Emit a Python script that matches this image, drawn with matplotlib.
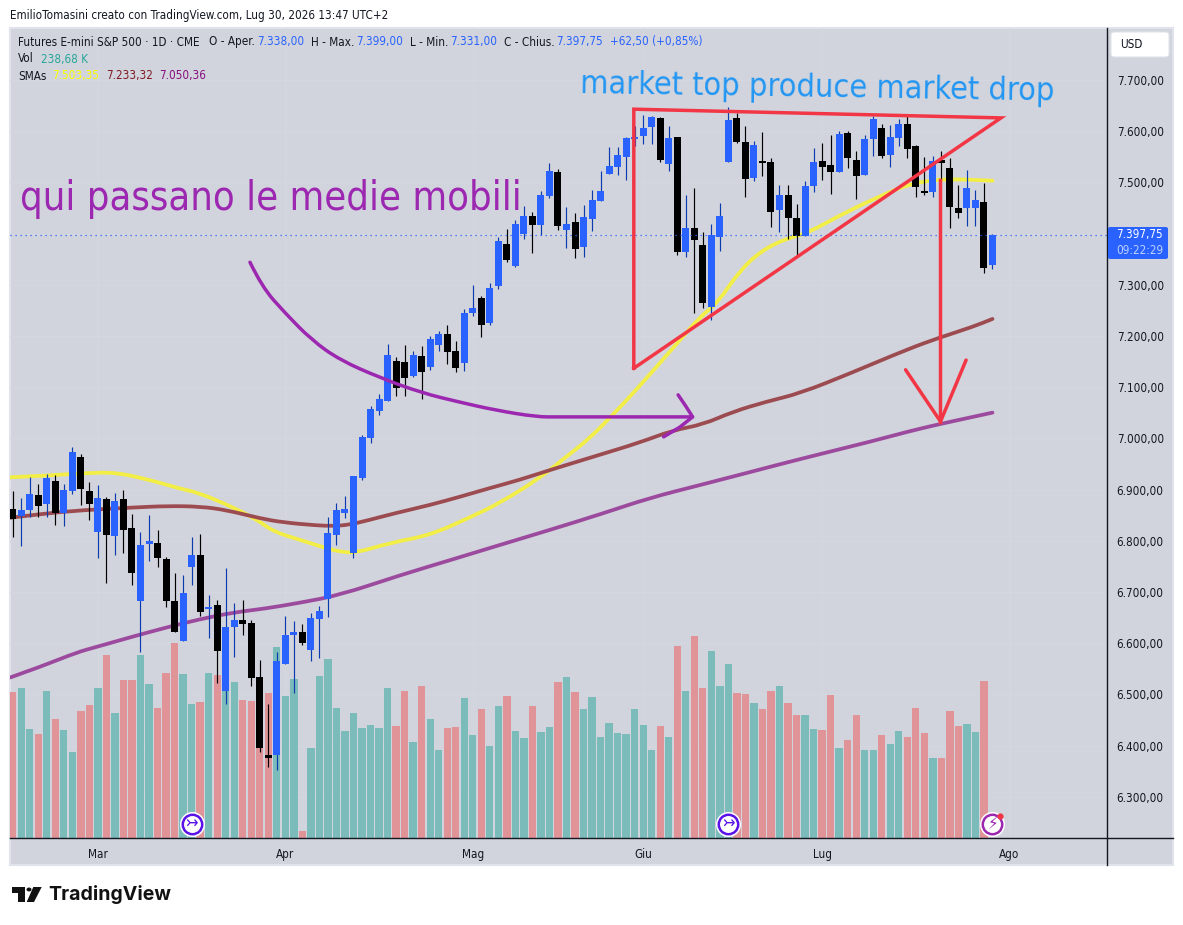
import matplotlib
matplotlib.use("Agg")
import matplotlib.pyplot as plt
from matplotlib.patches import Rectangle, Polygon, Circle, FancyBboxPatch, PathPatch
from matplotlib.path import Path
from matplotlib.lines import Line2D
from matplotlib.transforms import blended_transform_factory

# ---------- data ----------
highs = [6897,6883,6925,6911,6931,6929,6911,6983,6970,6915,6909,6886,6893,6899,6852,6817,6850,6821,6768,6737,
         6733,6807,6813,6694,6684,6747,6679,6684,6645,6567,6481,6583,6653,6643,6638,6659,6673,6847,6873,6887,
         6927,7007,7063,7087,7185,7159,7183,7171,7181,7200,7210,7222,7190,7253,7300,7278,7304,7393,7409,7427,
         7454,7442,7483,7538,7526,7452,7440,7456,7485,7522,7569,7569,7589,7610,7632,7630,7628,7610,7589,7475,
         7489,7403,7419,7460,7647,7635,7610,7581,7598,7548,7495,7495,7458,7503,7567,7577,7593,7600,7600,7561,
         7593,7629,7614,7612,7624,7630,7573,7550,7551,7561,7548,7495,7524,7485,7499,7399]
lows = [6808,6790,6846,6847,6847,6831,6828,6891,6870,6841,6766,6718,6772,6776,6714,6583,6761,6749,6671,6622,
        6604,6714,6653,6610,6522,6481,6573,6616,6516,6388,6358,6352,6559,6503,6597,6565,6571,6651,6792,6845,
        6766,6919,6991,7045,7073,7083,7083,7120,7077,7134,7171,7145,7130,7132,7239,7198,7222,7292,7345,7335,
        7390,7362,7397,7470,7407,7372,7352,7354,7405,7464,7517,7515,7505,7571,7575,7575,7540,7522,7358,7354,
        7245,7255,7231,7366,7540,7577,7471,7503,7512,7413,7403,7389,7356,7395,7481,7505,7477,7520,7528,7468,
        7514,7552,7547,7530,7571,7548,7471,7475,7471,7503,7411,7430,7415,7415,7323,7331]
opens = [6863,6848,6860,6890,6872,6917,6854,6897,6964,6897,6817,6882,6809,6882,6825,6682,6794,6796,6764,6682,
         6604,6749,6772,6667,6675,6507,6632,6645,6640,6534,6382,6382,6559,6616,6622,6587,6647,6686,6811,6854,
         6776,6923,7001,7053,7073,7151,7149,7122,7161,7140,7183,7204,7171,7147,7245,7274,7226,7298,7380,7337,
         7399,7434,7417,7474,7520,7407,7423,7374,7429,7464,7517,7530,7550,7585,7591,7608,7626,7536,7589,7364,
         7411,7378,7257,7393,7540,7626,7579,7509,7542,7540,7446,7475,7430,7395,7493,7542,7534,7520,7596,7544,
         7514,7585,7606,7553,7587,7614,7571,7483,7481,7544,7528,7450,7450,7450,7462,7338]
closes = [6843,6860,6891,6868,6923,6854,6899,6973,6901,6872,6884,6811,6878,6821,6737,6792,6800,6766,6682,6622,
          6698,6772,6661,6671,6585,6632,6645,6638,6532,6395,6376,6565,6616,6622,6600,6649,6663,6815,6860,6862,
          6927,7003,7057,7077,7163,7099,7118,7163,7130,7194,7204,7169,7138,7245,7255,7222,7294,7386,7349,7419,
          7434,7417,7475,7522,7415,7419,7370,7433,7466,7483,7532,7554,7587,7589,7606,7628,7544,7587,7364,7411,
          7388,7264,7397,7434,7622,7579,7507,7573,7538,7442,7475,7430,7395,7493,7540,7530,7520,7594,7548,7512,
          7585,7624,7551,7589,7614,7565,7491,7479,7542,7538,7452,7440,7489,7466,7333,7397.75]
volumes = [222,227,166,158,223,181,164,131,192,202,227,278,190,240,239,278,233,198,251,296,
           249,204,207,251,248,268,237,210,208,236,220,290,216,242,11,137,246,271,198,163,
           190,167,172,167,228,170,223,146,230,181,134,167,169,213,157,195,139,201,216,163,
           152,201,161,169,237,245,222,196,214,154,175,160,158,195,172,134,170,154,292,223,
           307,228,283,230,264,220,219,205,195,223,230,205,187,187,166,164,217,136,148,186,
           134,134,157,142,163,154,198,160,122,122,193,170,173,161,238.68,float("nan")]

sma_fast_at = [-0.3,3.6,8.3,12,16.1,19.6,22,25.9,28.7,30.6,33.7,36.9,38.4,40.2,44.3,49,53.7,57.2,61.9,64.8,
               67.5,70.2,73.2,78,80.7,82.7,85.4,88,90.9,93.2,97.9,102.6,105,108,110.8,112.7,115]
sma_fast = [6924,6927,6932,6934,6919,6902,6893,6865,6841,6818,6802,6785,6779,6776,6796,6811,6846,6874,6923,6962,
            6997,7042,7095,7186,7238,7264,7329,7368,7391,7400,7443,7479,7495,7505,7506,7505,7503.35]
sma_mid_at = [-0.3,3.6,8.3,14.1,18.1,22,25.1,29,31.7,35.7,37.6,39.4,41.7,44.9,49,52.5,56,59.5,63,68.9,73.6,
              77.5,81,84.5,88.5,92.4,98.3,105,108.8,112.7,115]
sma_mid = [6845,6853,6860,6865,6868,6867,6860,6844,6836,6830,6829,6831,6840,6854,6870,6886,6903,6919,6938,6968,6992,
           7016,7027,7052,7072,7088,7127,7174,7197,7218,7233.32]
sma_slow_at = [-0.3,3.6,7.5,9.9,14.1,18.1,22,25.9,29.8,33.7,38.4,45.5,51.3,57.2,63,69,74.8,80.7,86.5,92,101,105,108.8,112.7,115]
sma_slow = [6533,6556,6582,6593,6613,6631,6647,6660,6668,6679,6694,6733,6762,6792,6821,6852,6884,6909,6934,6958,6995,7013,7028,7042,7050.36]

month_bars = [10,32,54,74,95,117]
month_labels = ["Mar","Apr","Mag","Giu","Lug","Ago"]
price_ticks = [6300,6400,6500,6600,6700,6800,6900,7000,7100,7200,7300,7400,7500,7600,7700]
event_bars = [21,84,115]
last_price = 7397.75

# hand-drawn annotations, as (bar, price)
curve_bar = [27.85,29.25,31.96,35.1,38.4,43.2,48,52.4,56.7,61.5,64,79.8]
curve_price = [7344,7296,7245,7192,7153,7118,7089,7071,7055,7042,7042,7042]
curve_head_bar = [78.1,79,79.8,78.3,76.4]
curve_head_price = [7085,7063,7042,7022,7003]
tri_bar = [72.9,72.9,116,72.9]
tri_price = [7137,7643,7626,7137]
drop_bar = [108.8,108.8]
drop_price = [7505,7033]
drop_head_bar = [104.8,108.9,111.9]
drop_head_price = [7134,7033,7153]

# ---------- layout ----------
W, H = 1183, 925
L, R, T, B = 10, 1107, 28, 838
BG = "#d1d4dc"
FS = 8.4
plt.rcParams["font.family"] = ["DejaVu Sans"]
plt.rcParams["font.stretch"] = "condensed"
fig = plt.figure(figsize=(W/100, H/100), dpi=100, facecolor="white")

def fx(x): return x/W
def fy(y): return 1-y/H

def smooth(axis, xs, ys, **kw):
    """Draw a polyline through the read points with rounded corners (rendering only)."""
    verts = [(xs[0], ys[0])]; codes = [Path.MOVETO]
    for i in range(1, len(xs)-1):
        verts += [(xs[i], ys[i]), ((xs[i]+xs[i+1])/2, (ys[i]+ys[i+1])/2)]
        codes += [Path.CURVE3, Path.CURVE3]
    verts.append((xs[-1], ys[-1])); codes.append(Path.LINETO)
    axis.add_patch(PathPatch(Path(verts, codes), fc="none", capstyle="round", **kw))

fig.add_artist(Rectangle((fx(10), fy(865)), (1173-10)/W, (865-28)/H, transform=fig.transFigure,
                         fc=BG, ec="#e0e3eb", lw=1.5, zorder=-5))
ax_vol = fig.add_axes([fx(L), fy(B), (R-L)/W, (B-T)/H])
ax = ax_vol.twinx()
ax.set_zorder(ax_vol.get_zorder()+1)
ax.patch.set_visible(False)
ax_vol.patch.set_visible(False)

xlim = (-0.317, 128.44)
ax.set_xlim(xlim); ax_vol.set_xlim(xlim)
pmin, pmax = 7700-(B-80)/0.512, 7700+(80-T)/0.512
vmax = 238.68*(B-T)/157.3
ax.set_ylim(pmin, pmax)
ax_vol.set_ylim(0, vmax)

bars = range(len(closes))
is_up = [c >= o for o, c in zip(opens, closes)]

# volume
ax_vol.bar(bars, volumes, width=0.86,
           color=["#7bbcba" if u else "#e09498" for u in is_up], linewidth=0, zorder=2)
# grid sits on the volume axes, under the bars
ax_vol.set_yticks([(p-pmin)/(pmax-pmin)*vmax for p in price_ticks])
ax_vol.tick_params(axis="y", length=0, labelleft=False)
ax_vol.set_xticks(month_bars)
ax_vol.set_xticklabels(month_labels, fontsize=FS, color="#131722")
ax_vol.tick_params(axis="x", length=0, pad=7)
ax_vol.grid(True, color="#d4d7df", lw=1, zorder=0)
ax_vol.set_axisbelow(True)
for s in ax_vol.spines.values():
    s.set_visible(False)

# SMAs
smooth(ax, sma_fast_at, sma_fast, ec="#f2ee45", lw=2.7, zorder=3)
smooth(ax, sma_mid_at, sma_mid, ec="#9c4b50", lw=2.7, zorder=3)
smooth(ax, sma_slow_at, sma_slow, ec="#9c4a9e", lw=2.7, zorder=3)

# candles
ax.vlines(bars, lows, highs, colors=["#0c3bb0" if u else "#000000" for u in is_up], lw=0.85, zorder=4)
ax.bar(bars, [abs(c-o) for o, c in zip(opens, closes)], bottom=[min(o, c) for o, c in zip(opens, closes)],
       width=0.82, color=["#2962ff" if u else "#000000" for u in is_up], linewidth=0, zorder=5)

# last price line
ax.axhline(last_price, color="#2962ff", lw=0.9, ls=(0, (1, 3)), zorder=6)

# annotations
RED = "#f23645"; PURP = "#9c27b0"
ax.plot(tri_bar, tri_price, color=RED, lw=2.5, zorder=7, solid_joinstyle="miter")
ax.plot(drop_bar, drop_price, color=RED, lw=2.5, zorder=7)
ax.plot(drop_head_bar, drop_head_price, color=RED, lw=2.5, zorder=7, solid_capstyle="round")
smooth(ax, curve_bar, curve_price, ec=PURP, lw=2.5, zorder=7)
ax.plot(curve_head_bar, curve_head_price, color=PURP, lw=2.5, zorder=7, solid_capstyle="round")

# axes cosmetics
ax.set_yticks(price_ticks)
ax.yaxis.tick_right()
ax.set_yticklabels([f"{p:,.2f}".replace(",", "#").replace(".", ",").replace("#", ".") for p in price_ticks],
                   fontsize=FS, color="#131722")
ax.tick_params(axis="y", length=0, pad=7)
for s in ax.spines.values():
    s.set_visible(False)
fig.add_artist(Line2D([fx(10), fx(1173)], [fy(838), fy(838)], color="#131722", lw=1, transform=fig.transFigure))
fig.add_artist(Line2D([fx(1107), fx(1107)], [fy(28), fy(865)], color="#131722", lw=1, transform=fig.transFigure))

# event icons
tr = blended_transform_factory(ax.transData, ax.transAxes)
ef = (B-824)/(B-T)
for i, b in enumerate(event_bars):
    last = i == len(event_bars)-1
    col = PURP if last else "#5a12e8"
    ax.plot([b], [ef], marker="o", ms=17, mfc="white", mec="white", transform=tr, zorder=8, clip_on=False)
    ax.plot([b], [ef], marker="o", ms=14, mfc="white", mec=col, mew=1.8, transform=tr, zorder=9, clip_on=False)
    ax.text(b, ef, "\u26a1" if last else "\u21a3", color=col, fontsize=12, ha="center", va="center",
            transform=tr, zorder=10)
ax.plot([event_bars[-1]+0.85], [ef+0.0095], marker="o", ms=4.5, mfc=RED, mec="none", transform=tr, zorder=11)

# big notes
fig.text(fx(20), fy(199), "qui passano le medie mobili", color=PURP, fontsize=28.5, va="center", ha="left")
fig.text(fx(817), fy(88.5), "market top produce market drop", color="#2196f3", fontsize=23.2, va="center",
         ha="center", rotation=-0.9, rotation_mode="anchor")

# header texts
def t(x, y, s, c="#131722", size=FS, **k):
    fig.text(fx(x), fy(y), s, color=c, fontsize=size, va="center", ha="left", **k)
t(10, 15, "EmilioTomasini creato con TradingView.com, Lug 30, 2026 13:47 UTC+2")
BL = "#2962ff"
t(18, 42, "Futures E-mini S&P 500 \u00b7 1D \u00b7 CME")
t(209, 42, "O - Aper."); t(257, 42, "7.338,00", BL)
t(311, 42, "H - Max."); t(356, 42, "7.399,00", BL)
t(410, 42, "L - Min."); t(450, 42, "7.331,00", BL)
t(504, 42, "C - Chius."); t(556, 42, "7.397,75", BL)
t(610, 42, "+62,50 (+0,85%)", BL)
t(18, 59, "Vol"); t(41, 59, "238,68 K", "#26a69a")
t(18, 76, "SMAs"); t(52, 76, "7.503,35", "#ffff00"); t(106, 76, "7.233,32", "#801922"); t(159, 76, "7.050,36", "#880e7f")

# price label and USD box
fig.add_artist(FancyBboxPatch((fx(1108), fy(259)), 60/W, 32/H, boxstyle="round,pad=0,rounding_size=0.002",
                              transform=fig.transFigure, fc=BL, ec="none", zorder=5))
fig.text(fx(1116), fy(234.5), "7.397,75", color="white", fontsize=FS, va="center", zorder=6)
fig.text(fx(1116), fy(250), "09:22:29", color="#bcd0ff", fontsize=FS, va="center", zorder=6)
fig.add_artist(FancyBboxPatch((fx(1111), fy(57)), 58/W, 25/H, boxstyle="round,pad=0,rounding_size=0.003",
                              transform=fig.transFigure, fc="white", ec="#e0e3eb", lw=0.8, zorder=5))
fig.text(fx(1120), fy(45), "USD", color="#131722", fontsize=FS, va="center", zorder=6)

# TradingView logo
K = "#111111"
def P(pts):
    fig.add_artist(Polygon([(fx(x), fy(y)) for x, y in pts], transform=fig.transFigure, fc=K, ec="none"))
P([(12.3, 887), (25, 887), (25, 902), (18.3, 902), (18.3, 892.5), (12.3, 892.5)])
P([(33.3, 887), (41.7, 887), (34, 902), (26.7, 902)])
fig.add_artist(Circle((fx(29), fy(889.5)), 2.5/W, transform=fig.transFigure, fc=K, ec="none"))
fig.text(fx(48), fy(895), "TradingView", color=K, fontsize=14.05, fontweight="bold", family="Inter", stretch="normal", va="center")

fig.savefig("out.png", dpi=100, facecolor="white")
